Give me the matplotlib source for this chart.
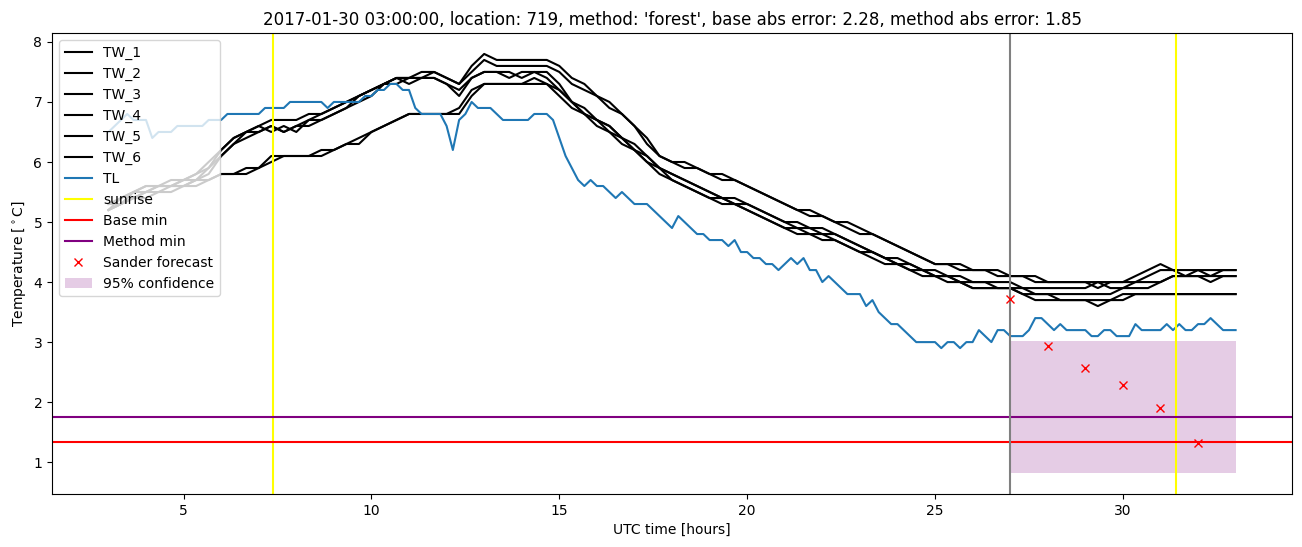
import matplotlib
matplotlib.use("Agg")
import matplotlib.pyplot as plt
import numpy as np

# TL: 10-minute readings from 03:00 to 33:00 (one row per hour)
tl = [
    6.5, 6.6, 6.7, 6.8, 6.7, 6.7,
    6.7, 6.4, 6.5, 6.5, 6.5, 6.6,
    6.6, 6.6, 6.6, 6.6, 6.7, 6.7,
    6.7, 6.8, 6.8, 6.8, 6.8, 6.8,
    6.8, 6.9, 6.9, 6.9, 6.9, 7.0,
    7.0, 7.0, 7.0, 7.0, 7.0, 6.9,
    7.0, 7.0, 7.0, 7.0, 7.0, 7.1,
    7.1, 7.2, 7.2, 7.3, 7.3, 7.2,
    7.2, 6.9, 6.8, 6.8, 6.8, 6.8,
    6.6, 6.2, 6.7, 6.8, 7.0, 6.9,
    6.9, 6.9, 6.8, 6.7, 6.7, 6.7,
    6.7, 6.7, 6.8, 6.8, 6.8, 6.7,
    6.4, 6.1, 5.9, 5.7, 5.6, 5.7,
    5.6, 5.6, 5.5, 5.4, 5.5, 5.4,
    5.3, 5.3, 5.3, 5.2, 5.1, 5.0,
    4.9, 5.1, 5.0, 4.9, 4.8, 4.8,
    4.7, 4.7, 4.7, 4.6, 4.7, 4.5,
    4.5, 4.4, 4.4, 4.3, 4.3, 4.2,
    4.3, 4.4, 4.3, 4.4, 4.2, 4.2,
    4.0, 4.1, 4.0, 3.9, 3.8, 3.8,
    3.8, 3.6, 3.7, 3.5, 3.4, 3.3,
    3.3, 3.2, 3.1, 3.0, 3.0, 3.0,
    3.0, 2.9, 3.0, 3.0, 2.9, 3.0,
    3.0, 3.2, 3.1, 3.0, 3.2, 3.2,
    3.1, 3.1, 3.1, 3.2, 3.4, 3.4,
    3.3, 3.2, 3.3, 3.2, 3.2, 3.2,
    3.2, 3.1, 3.1, 3.2, 3.2, 3.1,
    3.1, 3.1, 3.3, 3.2, 3.2, 3.2,
    3.2, 3.3, 3.2, 3.3, 3.2, 3.2,
    3.3, 3.3, 3.4, 3.3, 3.2, 3.2,
    3.2,
]

# TW_1 .. TW_6: 20-minute readings (two hours per row)
tw_1 = [
    5.2, 5.4, 5.5, 5.6, 5.6, 5.7,
    5.7, 5.8, 6.0, 6.2, 6.4, 6.5,
    6.6, 6.7, 6.7, 6.7, 6.8, 6.8,
    6.9, 7.0, 7.1, 7.2, 7.3, 7.4,
    7.4, 7.4, 7.5, 7.4, 7.3, 7.6,
    7.8, 7.7, 7.7, 7.7, 7.7, 7.7,
    7.6, 7.4, 7.3, 7.1, 7.0, 6.8,
    6.6, 6.4, 6.1, 6.0, 6.0, 5.9,
    5.8, 5.8, 5.7, 5.6, 5.5, 5.4,
    5.3, 5.2, 5.1, 5.1, 5.0, 5.0,
    4.9, 4.8, 4.7, 4.6, 4.5, 4.4,
    4.3, 4.3, 4.3, 4.2, 4.2, 4.2,
    4.1, 4.1, 4.0, 4.0, 4.0, 4.0,
    4.0, 3.9, 4.0, 4.0, 4.1, 4.2,
    4.3, 4.2, 4.2, 4.2, 4.2, 4.2,
    4.2,
]
tw_2 = [
    5.3, 5.4, 5.5, 5.5, 5.6, 5.6,
    5.7, 5.8, 5.9, 6.1, 6.3, 6.5,
    6.5, 6.6, 6.5, 6.6, 6.7, 6.8,
    6.9, 7.0, 7.1, 7.2, 7.3, 7.4,
    7.4, 7.5, 7.5, 7.4, 7.3, 7.5,
    7.7, 7.6, 7.6, 7.6, 7.6, 7.6,
    7.5, 7.3, 7.2, 7.1, 6.9, 6.8,
    6.6, 6.3, 6.1, 6.0, 5.9, 5.9,
    5.8, 5.7, 5.7, 5.6, 5.5, 5.4,
    5.3, 5.2, 5.2, 5.1, 5.0, 4.9,
    4.8, 4.8, 4.7, 4.6, 4.5, 4.4,
    4.3, 4.3, 4.2, 4.2, 4.2, 4.1,
    4.1, 4.1, 4.1, 4.0, 4.0, 4.0,
    4.0, 4.0, 4.0, 4.0, 4.0, 4.1,
    4.2, 4.2, 4.1, 4.2, 4.1, 4.2,
    4.2,
]
tw_3 = [
    5.2, 5.3, 5.5, 5.6, 5.6, 5.6,
    5.7, 5.7, 5.9, 6.2, 6.4, 6.5,
    6.6, 6.5, 6.6, 6.5, 6.7, 6.7,
    6.8, 6.9, 7.1, 7.2, 7.3, 7.4,
    7.3, 7.4, 7.4, 7.3, 7.2, 7.4,
    7.5, 7.5, 7.5, 7.4, 7.5, 7.5,
    7.3, 7.0, 6.9, 6.7, 6.6, 6.4,
    6.3, 6.1, 5.9, 5.8, 5.7, 5.6,
    5.5, 5.4, 5.4, 5.3, 5.2, 5.1,
    5.0, 5.0, 4.9, 4.9, 4.8, 4.7,
    4.6, 4.5, 4.4, 4.4, 4.3, 4.2,
    4.2, 4.1, 4.1, 4.0, 4.0, 4.0,
    4.0, 3.9, 3.9, 3.9, 3.9, 3.9,
    3.9, 4.0, 3.9, 3.9, 4.0, 4.0,
    4.0, 4.1, 4.1, 4.1, 4.0, 4.1,
    4.1,
]
tw_4 = [
    5.2, 5.3, 5.4, 5.5, 5.6, 5.6,
    5.6, 5.7, 5.8, 6.1, 6.3, 6.4,
    6.5, 6.6, 6.5, 6.6, 6.6, 6.7,
    6.8, 6.9, 7.0, 7.1, 7.3, 7.3,
    7.4, 7.4, 7.4, 7.3, 7.1, 7.4,
    7.5, 7.5, 7.4, 7.5, 7.5, 7.4,
    7.2, 7.0, 6.8, 6.7, 6.6, 6.4,
    6.2, 6.1, 5.9, 5.8, 5.7, 5.6,
    5.5, 5.4, 5.3, 5.3, 5.2, 5.1,
    5.0, 4.9, 4.9, 4.8, 4.8, 4.7,
    4.6, 4.5, 4.4, 4.3, 4.3, 4.2,
    4.1, 4.1, 4.0, 4.0, 4.0, 3.9,
    3.9, 3.9, 3.8, 3.8, 3.8, 3.8,
    3.8, 3.8, 3.8, 3.9, 3.9, 3.9,
    4.0, 4.1, 4.1, 4.1, 4.1, 4.1,
    4.1,
]
tw_5 = [
    5.2, 5.3, 5.4, 5.5, 5.5, 5.6,
    5.6, 5.7, 5.7, 5.8, 5.8, 5.9,
    5.9, 6.1, 6.1, 6.1, 6.1, 6.1,
    6.2, 6.3, 6.4, 6.5, 6.6, 6.7,
    6.8, 6.8, 6.8, 6.8, 6.9, 7.2,
    7.3, 7.3, 7.3, 7.3, 7.3, 7.3,
    7.2, 7.0, 6.8, 6.7, 6.5, 6.4,
    6.2, 6.0, 5.9, 5.7, 5.6, 5.5,
    5.4, 5.4, 5.3, 5.2, 5.1, 5.0,
    4.9, 4.9, 4.8, 4.8, 4.7, 4.6,
    4.5, 4.5, 4.4, 4.3, 4.2, 4.2,
    4.1, 4.1, 4.0, 3.9, 3.9, 3.9,
    3.9, 3.8, 3.8, 3.8, 3.7, 3.7,
    3.7, 3.6, 3.7, 3.7, 3.8, 3.8,
    3.8, 3.8, 3.8, 3.8, 3.8, 3.8,
    3.8,
]
tw_6 = [
    5.3, 5.3, 5.4, 5.4, 5.5, 5.5,
    5.6, 5.6, 5.7, 5.8, 5.8, 5.8,
    5.9, 6.0, 6.1, 6.1, 6.1, 6.2,
    6.2, 6.3, 6.3, 6.5, 6.6, 6.7,
    6.8, 6.8, 6.8, 6.8, 6.8, 7.1,
    7.3, 7.3, 7.3, 7.3, 7.4, 7.3,
    7.1, 6.9, 6.8, 6.6, 6.5, 6.3,
    6.2, 6.0, 5.8, 5.7, 5.6, 5.5,
    5.4, 5.3, 5.3, 5.2, 5.1, 5.0,
    4.9, 4.8, 4.8, 4.7, 4.7, 4.6,
    4.5, 4.4, 4.3, 4.3, 4.2, 4.1,
    4.1, 4.0, 4.0, 3.9, 3.9, 3.9,
    3.9, 3.8, 3.7, 3.7, 3.7, 3.7,
    3.7, 3.7, 3.7, 3.8, 3.8, 3.8,
    3.8, 3.8, 3.8, 3.8, 3.8, 3.8,
    3.8,
]
tw_series = [tw_1, tw_2, tw_3, tw_4, tw_5, tw_6]

# forecast and reference values
forecast_hours = [27, 28, 29, 30, 31, 32]
sander_forecast = [3.71, 2.93, 2.57, 2.28, 1.91, 1.32]
sunrise_hours = [7.39, 31.42]
forecast_start = 27
conf_low, conf_high = 0.82, 3.02
base_min = 1.33
method_min = 1.76

hours_tl = np.linspace(3, 33, len(tl))
hours_tw = np.linspace(3, 33, len(tw_1))

fig, ax = plt.subplots(figsize=(13.02, 5.47), dpi=100)

for i, tw in enumerate(tw_series):
    ax.plot(hours_tw, tw, color='black', label='TW_%d' % (i + 1))
ax.plot(hours_tl, tl, label='TL')

for i, s in enumerate(sunrise_hours):
    ax.axvline(s, color='yellow', label='sunrise' if i == 0 else None)
ax.axhline(base_min, color='red', label='Base min')
ax.axhline(method_min, color='purple', label='Method min')
ax.axvline(forecast_start, color='gray')

ax.plot(forecast_hours, sander_forecast, 'rx', label='Sander forecast')
ax.fill_between([forecast_start, 33], conf_low, conf_high, color='purple',
                alpha=0.2, linewidth=0, label='95% confidence')

ax.set_title("2017-01-30 03:00:00, location: 719, method: 'forest', "
             "base abs error: 2.28, method abs error: 1.85")
ax.set_xlabel('UTC time [hours]')
ax.set_ylabel(r'Temperature [$^\circ$C]')
ax.legend(loc='upper left')

fig.subplots_adjust(left=0.04, right=0.9923, top=0.9397, bottom=0.097)
fig.savefig('out.png')
